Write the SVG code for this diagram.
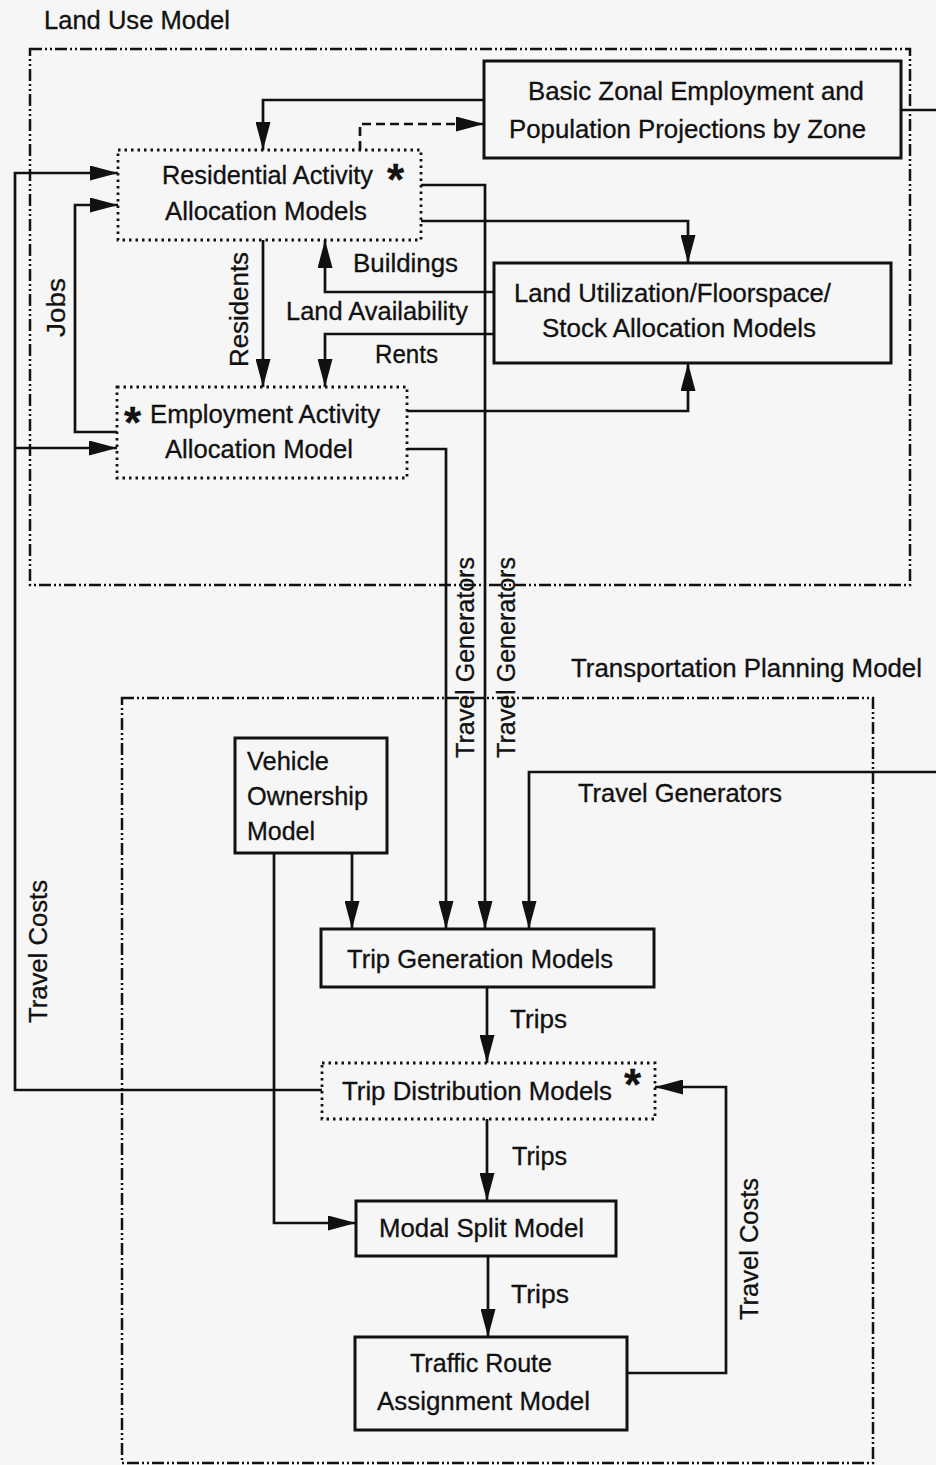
<svg xmlns="http://www.w3.org/2000/svg" width="936" height="1465" viewBox="0 0 936 1465">
<defs>
<marker id="ah" markerUnits="userSpaceOnUse" markerWidth="28" markerHeight="15" refX="28" refY="7.5" orient="auto" viewBox="0 0 28 15">
<path d="M0,0 L28,7.5 L0,15 Z" fill="#111"/>
</marker>
<style>
text{font-family:"Liberation Sans",Arial,sans-serif;font-size:25px;fill:#111;stroke:#111;stroke-width:0.3}
.star{font-size:44px;font-weight:bold}
.box{fill:none;stroke:#111;stroke-width:3}
.dot{fill:none;stroke:#111;stroke-width:2.8;stroke-dasharray:2.5 4}
.frame{fill:none;stroke:#111;stroke-width:2.5;stroke-dasharray:12 3 2 3 2 3}
.ln{fill:none;stroke:#111;stroke-width:2.7}
.arr{marker-end:url(#ah)}
.dash{stroke-dasharray:9 5}
</style>
</defs>
<rect x="0" y="0" width="936" height="1465" fill="#f6f6f6"/>

<g id="land-use-model">
<text x="44" y="29" textLength="186" lengthAdjust="spacingAndGlyphs">Land Use Model</text>
<rect class="frame" x="30" y="49" width="880" height="536"/>
</g>

<g id="transportation-planning-model">
<text x="571" y="677" textLength="351" lengthAdjust="spacingAndGlyphs">Transportation Planning Model</text>
<rect class="frame" x="122" y="698" width="751" height="765"/>
</g>

<g id="connectors">
<path class="ln arr" d="M484,100 H263 V150"/>
<path class="ln arr dash" d="M360,150 V124 H484"/>
<path class="ln arr" d="M322,1090 H15 V173 H118"/>
<path class="ln arr" d="M15,448 H117"/>
<path class="ln arr" d="M117,432 H75 V205 H118"/>
<path class="ln arr" d="M263,240 V387"/>
<path class="ln arr" d="M494,292 H325 V240"/>
<path class="ln arr" d="M494,334 H325 V387"/>
<path class="ln arr" d="M421,221 H688 V263"/>
<path class="ln arr" d="M421,185 H485 V929"/>
<path class="ln arr" d="M407,411 H688 V363"/>
<path class="ln arr" d="M407,449 H446 V929"/>
<path class="ln" d="M901,110 H936"/>
<path class="ln arr" d="M936,772 H529 V929"/>
<path class="ln arr" d="M352,853 V929"/>
<path class="ln arr" d="M274,853 V1223 H356"/>
<path class="ln arr" d="M487,987 V1063"/>
<path class="ln arr" d="M487,1119 V1201"/>
<path class="ln arr" d="M488,1256 V1337"/>
<path class="ln arr" d="M627,1373 H726 V1087 H655"/>
<text x="353" y="272" textLength="105" lengthAdjust="spacingAndGlyphs">Buildings</text>
<text x="286" y="320" textLength="182" lengthAdjust="spacingAndGlyphs">Land Availability</text>
<text x="375" y="363" textLength="63" lengthAdjust="spacingAndGlyphs">Rents</text>
<text transform="translate(65,337) rotate(-90)" x="0" y="0" textLength="59" lengthAdjust="spacingAndGlyphs">Jobs</text>
<text transform="translate(248,367) rotate(-90)" x="0" y="0" textLength="115" lengthAdjust="spacingAndGlyphs">Residents</text>
<text transform="translate(47,1023) rotate(-90)" x="0" y="0" textLength="143" lengthAdjust="spacingAndGlyphs">Travel Costs</text>
<text transform="translate(474,758) rotate(-90)" x="0" y="0" textLength="201" lengthAdjust="spacingAndGlyphs">Travel Generators</text>
<text transform="translate(515,758) rotate(-90)" x="0" y="0" textLength="201" lengthAdjust="spacingAndGlyphs">Travel Generators</text>
<text x="578" y="802" textLength="204" lengthAdjust="spacingAndGlyphs">Travel Generators</text>
<text x="510" y="1028" textLength="57" lengthAdjust="spacingAndGlyphs">Trips</text>
<text x="512" y="1165" textLength="55" lengthAdjust="spacingAndGlyphs">Trips</text>
<text x="511" y="1303" textLength="58" lengthAdjust="spacingAndGlyphs">Trips</text>
<text transform="translate(758,1320) rotate(-90)" x="0" y="0" textLength="142" lengthAdjust="spacingAndGlyphs">Travel Costs</text>
</g>

<g id="basic-zonal">
<rect class="box" x="484" y="61" width="417" height="97"/>
<text x="528" y="100" textLength="336" lengthAdjust="spacingAndGlyphs">Basic Zonal Employment and</text>
<text x="509" y="138" textLength="357" lengthAdjust="spacingAndGlyphs">Population Projections by Zone</text>
</g>

<g id="residential">
<rect class="dot" x="118" y="150" width="303" height="90"/>
<text x="162" y="184" textLength="211" lengthAdjust="spacingAndGlyphs">Residential Activity</text>
<text class="star" x="387" y="195">*</text>
<text x="165" y="220" textLength="202" lengthAdjust="spacingAndGlyphs">Allocation Models</text>
</g>

<g id="employment">
<rect class="dot" x="117" y="387" width="290" height="91"/>
<text class="star" x="124" y="438">*</text>
<text x="150" y="423" textLength="230" lengthAdjust="spacingAndGlyphs">Employment Activity</text>
<text x="165" y="458" textLength="188" lengthAdjust="spacingAndGlyphs">Allocation Model</text>
</g>

<g id="land-utilization">
<rect class="box" x="494" y="263" width="397" height="100"/>
<text x="514" y="302" textLength="317" lengthAdjust="spacingAndGlyphs">Land Utilization/Floorspace/</text>
<text x="542" y="337" textLength="274" lengthAdjust="spacingAndGlyphs">Stock Allocation Models</text>
</g>

<g id="vehicle-ownership">
<rect class="box" x="235" y="738" width="152" height="115"/>
<text x="247" y="770" textLength="82" lengthAdjust="spacingAndGlyphs">Vehicle</text>
<text x="247" y="805" textLength="121" lengthAdjust="spacingAndGlyphs">Ownership</text>
<text x="247" y="840" textLength="68" lengthAdjust="spacingAndGlyphs">Model</text>
</g>

<g id="trip-generation">
<rect class="box" x="321" y="929" width="333" height="58"/>
<text x="347" y="968" textLength="266" lengthAdjust="spacingAndGlyphs">Trip Generation Models</text>
</g>

<g id="trip-distribution">
<rect class="dot" x="322" y="1063" width="333" height="56"/>
<text x="342" y="1100" textLength="270" lengthAdjust="spacingAndGlyphs">Trip Distribution Models</text>
<text class="star" x="624" y="1100">*</text>
</g>

<g id="modal-split">
<rect class="box" x="356" y="1201" width="260" height="55"/>
<text x="379" y="1237" textLength="205" lengthAdjust="spacingAndGlyphs">Modal Split Model</text>
</g>

<g id="traffic-route">
<rect class="box" x="355" y="1337" width="272" height="93"/>
<text x="410" y="1372" textLength="142" lengthAdjust="spacingAndGlyphs">Traffic Route</text>
<text x="377" y="1410" textLength="213" lengthAdjust="spacingAndGlyphs">Assignment Model</text>
</g>
</svg>
